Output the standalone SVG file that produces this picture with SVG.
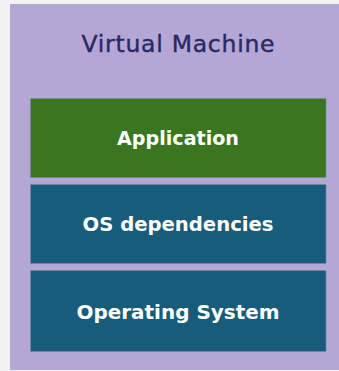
<svg xmlns="http://www.w3.org/2000/svg" width="339" height="371" viewBox="0 0 339 371">
  <style>
    .layer { stroke: #7f8a96; stroke-width: 1; stroke-opacity: 0.6; }
    .app { fill: #3a751f; }
    .blue { fill: #175c7b; }
    .label { font-family: "DejaVu Sans", "Liberation Sans", sans-serif; fill: #ffffff; text-anchor: middle; font-size: 19.5px; font-weight: bold; }
    .title { font-family: "DejaVu Sans", "Liberation Sans", sans-serif; fill: #2b2960; stroke: #2b2960; stroke-width: 0.4; text-anchor: middle; font-size: 23.5px; }
  </style>
  <rect x="0" y="0" width="339" height="371" fill="#f2f2f2"/>
  <g id="vm">
    <rect x="10" y="4" width="340" height="366" fill="#b4a7d6"/>
    <text class="title" x="178" y="52" textLength="193" lengthAdjust="spacing">Virtual Machine</text>
  </g>
  <g id="application">
    <rect class="layer app" x="30.5" y="98.5" width="295.5" height="79"/>
    <text class="label" x="178" y="145" textLength="122" lengthAdjust="spacingAndGlyphs">Application</text>
  </g>
  <g id="os-dependencies">
    <rect class="layer blue" x="30.5" y="184.5" width="295.5" height="79"/>
    <text class="label" x="178" y="231" textLength="191" lengthAdjust="spacingAndGlyphs">OS dependencies</text>
  </g>
  <g id="operating-system">
    <rect class="layer blue" x="30.5" y="270.5" width="295.5" height="81"/>
    <text class="label" x="178" y="319" textLength="203" lengthAdjust="spacingAndGlyphs">Operating System</text>
  </g>
  <g id="connectors"/>
</svg>
